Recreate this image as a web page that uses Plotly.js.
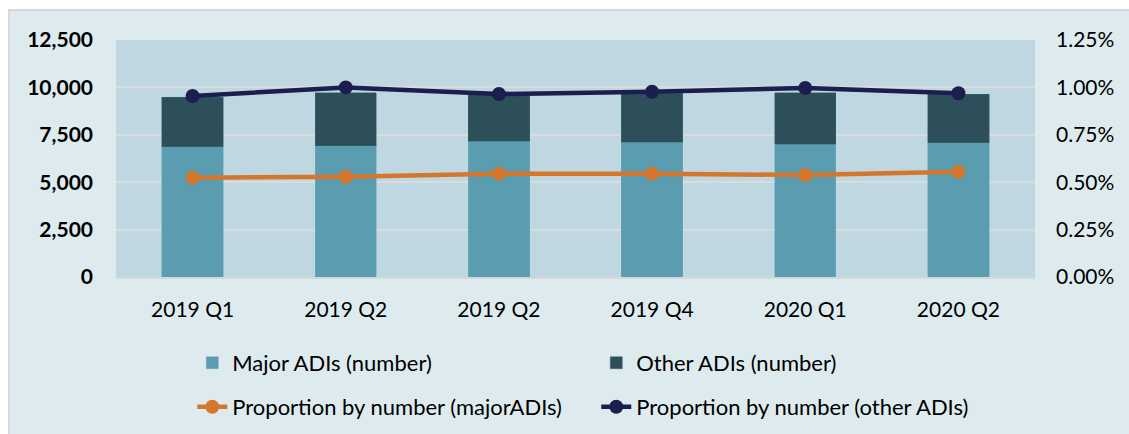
<!DOCTYPE html>
<html>
<head>
<meta charset="utf-8">
<script src="https://cdn.plot.ly/plotly-3.0.1.min.js"></script>
<style>
  html, body { margin: 0; padding: 0; background: #ffffff; }
  #chart { position: absolute; left: 8px; top: 9px; width: 1119px; height: 423px;
           border-top: 2px solid #D9D9D9; border-left: 2px solid #D9D9D9; }
</style>
</head>
<body>
<div id="chart"></div>
<script>
const categories = ["2019 Q1", "2019 Q2", "2019 Q2 ", "2019 Q4", "2020 Q1", "2020 Q2"];
const categoryLabels = ["2019 Q1", "2019 Q2", "2019 Q2", "2019 Q4", "2020 Q1", "2020 Q2"];
const majorADIsNumber = [6860, 6925, 7170, 7120, 7000, 7080];
const otherADIsNumber = [2620, 2795, 2560, 2570, 2720, 2570];
const propMajorADIs = [0.00524, 0.00529, 0.00545, 0.00545, 0.00538, 0.00555];
const propOtherADIs = [0.00955, 0.01000, 0.00965, 0.00977, 0.00997, 0.00969];

const FONT = "Lato, 'Open Sans', sans-serif";

const traces = [
  { type: 'bar', name: 'Major ADIs (number)', x: categories, y: majorADIsNumber,
    marker: { color: '#5A9CB0', line: { color: '#6FAABB', width: 0.5 } }, width: 0.4, legend: 'legend' },
  { type: 'bar', name: 'Other ADIs (number)', x: categories, y: otherADIsNumber,
    marker: { color: '#2D4F5A', line: { color: '#3F6570', width: 0.5 } }, width: 0.4, legend: 'legend' },
  { type: 'scatter', mode: 'lines+markers', name: 'Proportion by number (majorADIs)', x: categories, y: propMajorADIs,
    yaxis: 'y2', line: { color: '#D4772C', width: 4.5 }, marker: { color: '#D4772C', size: 14 }, legend: 'legend2' },
  { type: 'scatter', mode: 'lines+markers', name: 'Proportion by number (other ADIs)', x: categories, y: propOtherADIs,
    yaxis: 'y2', line: { color: '#1B1E4E', width: 4.5 }, marker: { color: '#1B1E4E', size: 14 }, legend: 'legend2' }
];

const layout = {
  width: 1119, height: 423,
  margin: { l: 106, r: 94, t: 29, b: 157 },
  paper_bgcolor: '#DDEBEF',
  plot_bgcolor: '#BFD7E0',
  barmode: 'stack',
  font: { family: FONT, color: '#000000', size: 21 },
  xaxis: {
    type: 'category', tickvals: categories, ticktext: categoryLabels,
    showline: true, linecolor: '#D5D8D9', linewidth: 2, ticks: '',
    showgrid: false, ticklabelstandoff: 13, automargin: false,
    tickfont: { family: FONT, size: 21, color: '#000' }
  },
  yaxis: {
    range: [0, 12500], dtick: 2500, tick0: 0, tickformat: ',d',
    showgrid: true, gridcolor: '#D9DCDD', gridwidth: 2, zeroline: false,
    ticks: '', ticklabelstandoff: 22, automargin: false,
    tickfont: { family: FONT, size: 21, color: '#000', weight: 'bold' }
  },
  yaxis2: {
    overlaying: 'y', side: 'right', range: [0, 0.0125], dtick: 0.0025, tick0: 0,
    tickformat: '.2%', showgrid: false, zeroline: false, ticks: '', ticklabelstandoff: 20, automargin: false,
    tickfont: { family: FONT, size: 21, color: '#000' }
  },
  showlegend: true,
  legend: {
    orientation: 'h', x: 0.083, xref: 'paper', y: 0.168, yref: 'container', yanchor: 'middle',
    xanchor: 'left', traceorder: 'normal', entrywidth: 359, entrywidthmode: 'pixels',
    bgcolor: 'rgba(0,0,0,0)', font: { family: FONT, size: 22, color: '#000' }
  },
  legend2: {
    orientation: 'h', x: 0.083, xref: 'paper', y: 0.064, yref: 'container', yanchor: 'middle',
    xanchor: 'left', traceorder: 'normal', entrywidth: 359, entrywidthmode: 'pixels',
    bgcolor: 'rgba(0,0,0,0)', font: { family: FONT, size: 22, color: '#000' }
  }
};

Plotly.newPlot('chart', traces, layout, { displayModeBar: false, staticPlot: true });
</script>
</body>
</html>
